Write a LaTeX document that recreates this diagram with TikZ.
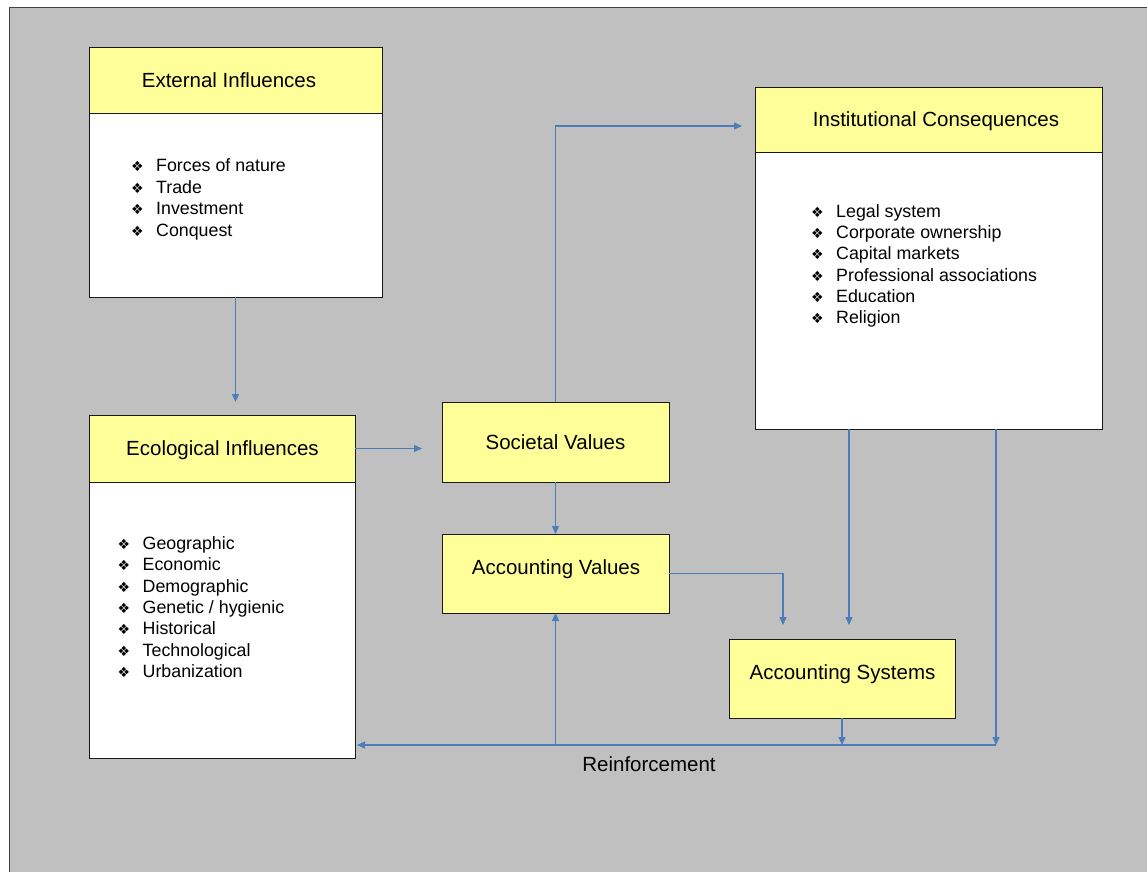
\documentclass[tikz,border=0pt]{standalone}
\usepackage{fontspec}
\setmainfont{Liberation Sans}
\newfontfamily\dejavu{DejaVu Sans}
\usetikzlibrary{arrows.meta,calc}
\definecolor{bgray}{RGB}{192,192,192}
\definecolor{hdr}{RGB}{255,255,153}
\definecolor{arrowblue}{RGB}{74,126,187}
\newcommand\myhfont{\fontsize{20.5}{24}\selectfont}
\newcommand\mylfont{\fontsize{17.8}{21}\selectfont}
\newcommand\mybul{\makebox[25pt][l]{\dejavu\fontsize{14}{14}\selectfont ❖}}
\begin{document}
\begin{tikzpicture}[x=1pt,y=-1pt,
  box/.style={draw=black!90, line width=0.9pt, inner sep=0pt, outer sep=0pt},
  body/.style={box, fill=white},
  head/.style={box, fill=hdr},
  ybox/.style={box, fill=hdr},
  lbl/.style={inner sep=0pt, font=\myhfont, text height=14.7pt, text depth=0pt},
  item/.style={anchor=west, inner sep=0pt, font=\mylfont, text height=13pt, text depth=0pt},
  arr/.style={draw=arrowblue, line width=1.1pt, -{Triangle[length=8pt,width=7pt]}}]
\useasboundingbox (0,0) rectangle (1147,872);
\fill[white] (0,0) rectangle (1147,872);
\fill[bgray] (9,7) rectangle (1147,872);
\draw[black!75, line width=1pt] (9.5,872) -- (9.5,7.5) -- (1147,7.5);

% External Influences
\node[body, minimum width=293, minimum height=250] (ext) at (235.5,172) {};
\node[head, minimum width=293, minimum height=66] (exth) at (235.5,80) {};
\node[lbl] (extt) at (229,80) {External Influences};
\foreach \t [count=\i] in {Forces of nature, Trade, Investment, Conquest}
  \node[item] (ext\i) at (131,{165+21.6*(\i-1)}) {\mybul\t};

% Ecological Influences
\node[body, minimum width=266, minimum height=343] (eco) at (222,586.5) {};
\node[head, minimum width=266, minimum height=67] (ecoh) at (222,448.5) {};
\node[lbl] (ecot) at (222.5,448) {Ecological Influences};
\foreach \t [count=\i] in {Geographic, Economic, Demographic, Genetic / hygienic, Historical, Technological, Urbanization}
  \node[item] (eco\i) at (117.5,{543+21.33*(\i-1)}) {\mybul\t};

% Institutional Consequences
\node[body, minimum width=347, minimum height=342] (inst) at (928.5,258) {};
\node[head, minimum width=347, minimum height=65] (insth) at (928.5,119.5) {};
\node[lbl] (instt) at (936,119) {Institutional Consequences};
\foreach \t [count=\i] in {Legal system, Corporate ownership, Capital markets, Professional associations, Education, Religion}
  \node[item] (inst\i) at (811,{211+21.2*(\i-1)}) {\mybul\t};

% Yellow boxes
\node[ybox, minimum width=227, minimum height=80] (soc) at (555.5,442) {};
\node[lbl] (soct) at (555.5,442) {Societal Values};
\node[ybox, minimum width=227, minimum height=79] (accv) at (555.5,573.5) {};
\node[lbl] (accvt) at (556,567) {Accounting Values};
\node[ybox, minimum width=226, minimum height=79] (acs) at (842,678.5) {};
\node[lbl] (acst) at (842.5,672) {Accounting Systems};

% Connectors
\draw[arr] (ext.south) -- ($(ext.south |- eco.north)+(0,-13)$);
\draw[arr] (ecoh.east) -- ($(ecoh.east -| soc.west)+(-20,0)$);
\draw[arr] (soc.north) |- ($(insth.west)+(-13,6.5)$);
\draw[arr] (soc.south) -- (accv.north);
\coordinate (c1) at ($(acs.north west)+(54,-14)$);
\draw[arr] (accv.east) -| (c1);
\coordinate (c2a) at ($(inst.south west)+(94,0)$);
\draw[arr] (c2a) -- ($(c2a |- acs.north)+(0,-14)$);
\coordinate (r0) at ($(inst.south west)+(241,0)$);
\coordinate (r1) at ($(r0)+(0,316)$);
\draw[arr] (r0) -- (r1);
\draw[arr] (r1) -- ($(r1 -| eco.east)+(2,0)$);
\draw[arr] (acs.south) -- (acs.south |- r1);
\draw[arr] (accv.south |- r1) -- (accv.south);
\node[lbl] (reinf) at (649,764) {Reinforcement};
\end{tikzpicture}
\end{document}
